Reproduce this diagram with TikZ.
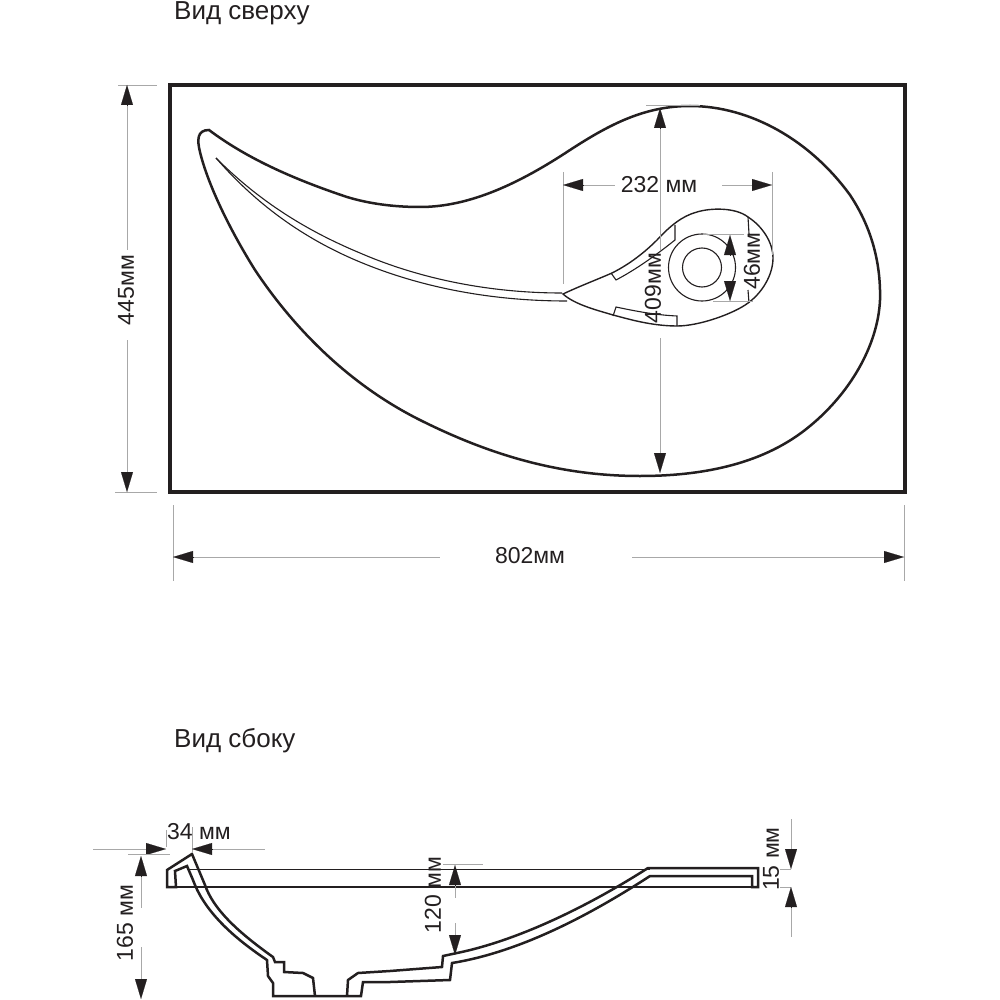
\documentclass[tikz,border=0pt]{standalone}
\usepackage{fontspec}
\setmainfont{Liberation Sans}
\usetikzlibrary{arrows.meta}
\definecolor{ink}{HTML}{231F20}
\definecolor{dimgrey}{HTML}{A8A8A8}
\tikzset{
  heavy/.style={draw=ink,line width=2.5pt,line join=miter},
  frame/.style={draw=ink,line width=3.6pt},
  thin line/.style={draw=ink,line width=1.1pt},
  dimline/.style={draw=dimgrey,line width=0.7pt},
  tipline/.style={draw=ink,line width=0.1pt,-{Triangle[length=20pt,width=12pt,fill=ink]}},
  lbl/.style={text=ink,font=\fontsize{23}{25}\selectfont,inner sep=0pt},
  vlbl/.style={lbl,rotate=90},
  title/.style={text=ink,font=\fontsize{26}{28}\selectfont,inner sep=0pt,anchor=base west}
}
\begin{document}
\begin{tikzpicture}[x=1pt,y=-1pt]
\useasboundingbox (0,0) rectangle (1000,1000);
\node[title] (top) at (174,20) {Вид сверху};
\node[title] (side) at (174,747) {Вид сбоку};
% plan
\draw[frame] (170,85) rectangle (905,492);
\draw[draw=ink,line width=2.5pt] (209,130) .. controls (245,157) and (290,178) .. (347,197)
 .. controls (370,204) and (395,207) .. (420,207) .. controls (470,207) and (520,183) .. (570,150)
 .. controls (610,124) and (645,106) .. (690,106) .. controls (750,106) and (810,140) .. (850,195)
 .. controls (870,225) and (881,260) .. (880,300) .. controls (878,345) and (850,395) .. (805,430)
 .. controls (760,465) and (700,476) .. (640,476) .. controls (560,476) and (490,455) .. (420,420)
 .. controls (350,385) and (295,330) .. (255,270) .. controls (230,230) and (208,185) .. (200,152)
 .. controls (197,140) and (197,130) .. (209,130) -- cycle;
\draw[thin line] (216,158) .. controls (255,197) and (300,228) .. (360,253)
 .. controls (420,279) and (490,293) .. (562,293);
\draw[thin line] (216,158) .. controls (250,197) and (295,235) .. (360,262)
 .. controls (420,287) and (490,301) .. (567,301);
\draw[thin line,line width=1.4pt] (563,294) .. controls (580,286) and (596,280) .. (612,273)
 .. controls (630,264) and (645,252) .. (657,240) .. controls (670,226) and (682,216) .. (697,212)
 .. controls (710,208) and (735,207) .. (748,217) .. controls (762,226) and (773,242) .. (773,258)
 .. controls (773,275) and (762,293) .. (748,303) .. controls (735,313) and (700,326) .. (677,326)
 .. controls (650,326) and (625,318) .. (613,315) .. controls (600,311) and (575,305) .. (563,294) -- cycle;
\draw[thin line] (675,225) -- (675,240) .. controls (655,256) and (635,270) .. (616,280) -- (611,273);
\draw[thin line] (613,316) -- (616,307) .. controls (635,311) and (655,315) .. (677,316) -- (677,326);
\draw[thin line] (748,217) -- (749,234) (748,290) -- (749,303);
\draw[thin line] (702,267.5) circle[radius=19.5];
\draw[thin line] (702,267.5) circle[radius=33.5];
% 445
\draw[dimline] (118,85) -- (157,85) (115,492) -- (157,492) (127,105) -- (127,250) (127,340) -- (127,472);
\draw[tipline] (127,105) -- (127,85);
\draw[tipline] (127,472) -- (127,492);
\node[vlbl] (d445) at (126,290) {445мм};
% 802
\draw[dimline] (173,505) -- (173,581) (904,505) -- (904,581) (193,557) -- (440,557) (632,557) -- (884,557);
\draw[tipline] (193,557) -- (173,557);
\draw[tipline] (884,557) -- (904,557);
\node[lbl] (d802) at (530,556) {802мм};
% 409
\draw[dimline] (646,105) -- (700,105) (660,126) -- (660,250) (660,338) -- (660,453);
\draw[tipline] (660,128) -- (660,108);
\draw[tipline] (660,453) -- (660,473);
\node[vlbl] (d409) at (653,288) {409мм};
% 232
\draw[dimline] (563,172) -- (563,284) (772,172) -- (772,255) (583,185) -- (615,185) (722,185) -- (752,185);
\draw[tipline] (583,185) -- (563,185);
\draw[tipline] (752,185) -- (772,185);
\node[lbl] (d232) at (659,185) {232 мм};
% 46
\draw[dimline] (703,234) -- (744,234) (713,301) -- (753,301);
\draw[tipline] (730,255) -- (730,235);
\draw[tipline] (730,281) -- (730,301);
\node[vlbl] (d46) at (752,261) {46мм};
% side view
\draw[thin line] (190,869.7) -- (650,869.7) (167,887) -- (755,887);
\draw[heavy] (167,887) -- (167,870) -- (192,854) -- (205,885)
 .. controls (213,908) and (235,930) .. (273,957)
 -- (275,962) -- (284,962) -- (284,972) -- (303,973) -- (313,978) -- (315,996) -- (347,996)
 -- (348,980) -- (358,973) -- (390,971) -- (442,967) -- (443,956) -- (457,953)
 .. controls (520,940) and (590,905) .. (648,868)
 -- (758,868) -- (758,887) -- (752,887) -- (752,876) -- (650,876)
 .. controls (590,915) and (520,952) .. (452,963)
 -- (450,980) -- (390,982) -- (363,982) -- (361,996) -- (347,996) -- (315,996) -- (273,996)
 -- (273,983) -- (268,976) -- (267,960)
 .. controls (228,934) and (203,908) .. (193,880)
 -- (187,866) -- (175,871) -- (176,887) -- cycle;
% 34
\draw[dimline] (93,849) -- (146,849) (212,849) -- (265,849) (166,830) -- (166,847) (192,827) -- (192,853);
\draw[tipline] (146,849) -- (166,849);
\draw[tipline] (212,849) -- (192,849);
\node[lbl] (d34) at (199,832) {34 мм};
% 165
\draw[dimline] (128,854) -- (170,854) (141,875) -- (141,908) (141,947) -- (141,980);
\draw[tipline] (141,876) -- (141,856);
\draw[tipline] (141,979) -- (141,999);
\node[vlbl] (d165) at (125,923) {165 мм};
% 120
\draw[dimline] (443,864) -- (483,864) (455,884) -- (455,898) (455,923) -- (455,937);
\draw[tipline] (455,885) -- (455,865);
\draw[tipline] (455,935) -- (455,955);
\node[vlbl] (d120) at (433,895) {120 мм};
% 15
\draw[dimline] (780,869) -- (791,869) (780,887) -- (791,887) (791,819) -- (791,850) (791,907) -- (791,937);
\draw[tipline] (791,849) -- (791,869);
\draw[tipline] (791,907) -- (791,887);
\node[vlbl] (d15) at (771,859) {15 мм};
\end{tikzpicture}
\end{document}
